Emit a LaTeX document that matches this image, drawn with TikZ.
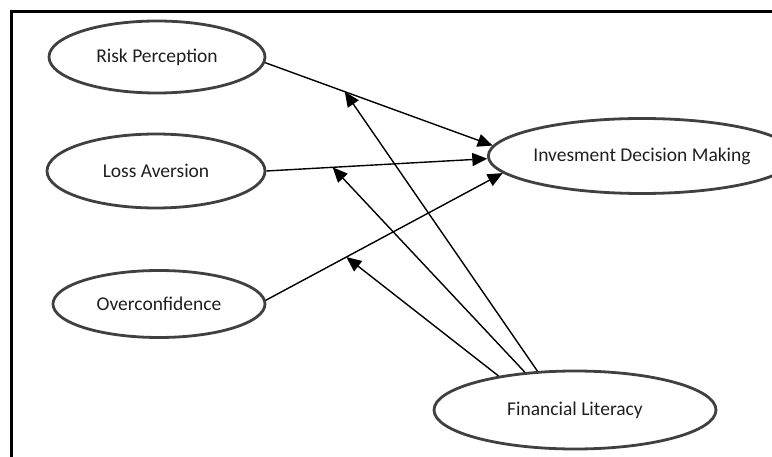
\documentclass[tikz,border=0pt]{standalone}
\usepackage{fontspec}
\setmainfont{Carlito}
\usetikzlibrary{shapes.geometric,arrows.meta}
\begin{document}
\begin{tikzpicture}[x=1pt,y=-1pt,
  var/.style={ellipse,draw=black!75,line width=2.8pt,inner sep=0pt,
    font=\fontsize{19.5}{22}\selectfont,text=black!88},
  arr/.style={-{Triangle[length=15pt,width=13pt]},line width=1.4pt}]
\useasboundingbox (0,0) rectangle (772,457);
\draw[line width=3pt] (11,458) -- (11,12) -- (773,12);
\node[var,minimum width=216pt,minimum height=72pt] (rp) at (157,57) {Risk Perception};
\node[var,minimum width=218pt,minimum height=74pt] (la) at (156,171) {Loss Aversion};
\node[var,minimum width=212pt,minimum height=67pt] (oc) at (159,304) {Overconfidence};
\node[var,minimum width=258pt,minimum height=75pt] (idm) at (642,156) {Invesment Decision Making};
\node[var,minimum width=282pt,minimum height=78pt] (fl) at (575,410) {Financial Literacy};
\draw[arr] (rp.-3) -- (idm.176) coordinate[pos=0.35] (m1);
\draw[arr] (la.0) -- (idm.181) coordinate[pos=0.30] (m2);
\draw[arr] (oc.2) -- (idm.187) coordinate[pos=0.34] (m3);
\draw[arr] (fl.134) -- (m1);
\draw[arr] (fl.143) -- (m2);
\draw[arr] (fl.156) -- (m3);
\end{tikzpicture}
\end{document}
